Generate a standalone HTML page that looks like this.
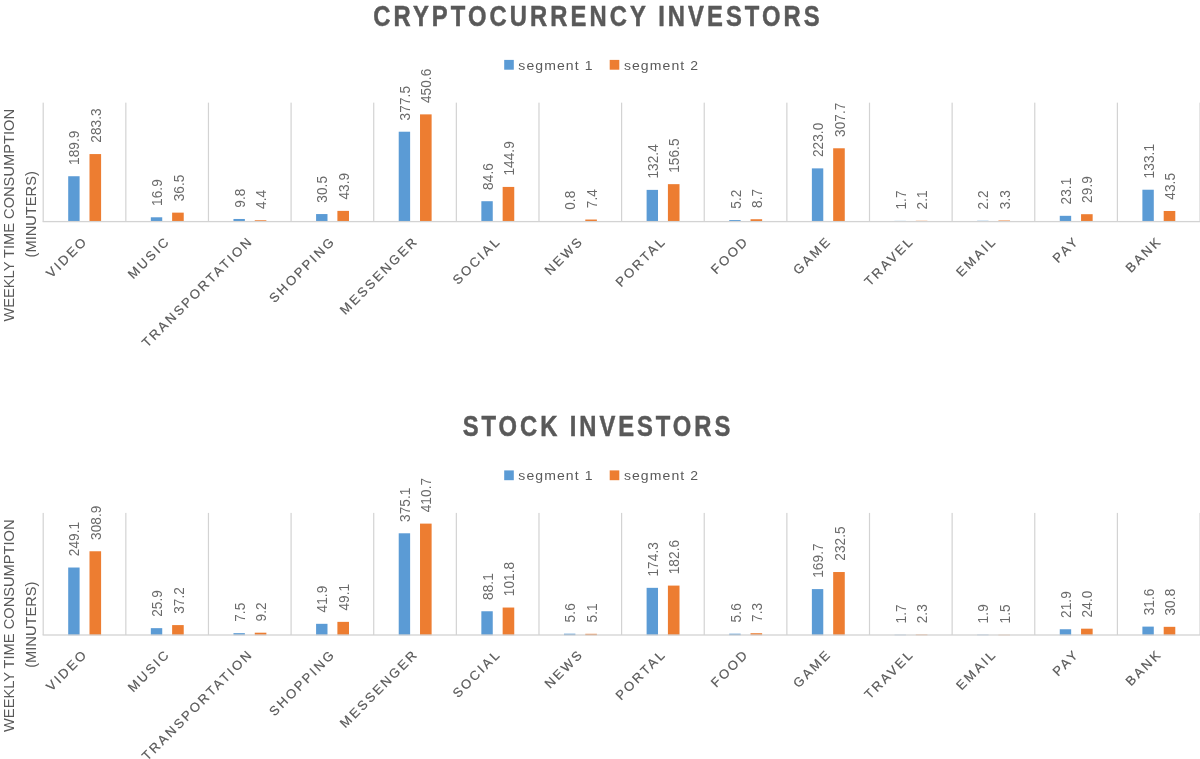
<!DOCTYPE html><html><head><meta charset="utf-8"><style>html,body{margin:0;padding:0;background:#fff;width:1200px;height:759px;overflow:hidden}svg{display:block;will-change:transform;filter:blur(0.35px)}text{font-family:"Liberation Sans",sans-serif}</style></head><body>
<svg width="1200" height="759" viewBox="0 0 1200 759">
<text transform="translate(598.05 26) scale(0.825 1)" text-anchor="middle" font-weight="bold" font-size="28.8" fill="#595959" stroke="#595959" stroke-width="0.5" letter-spacing="3.75">CRYPTOCURRENCY INVESTORS</text>
<rect x="504.2" y="59.9" width="9.6" height="9.8" fill="#5B9BD5"/>
<rect x="609.7" y="59.9" width="9.6" height="9.8" fill="#ED7D31"/>
<text transform="translate(518.3 69.5) scale(1.08 1)" font-size="13" fill="#595959" letter-spacing="1">segment 1</text>
<text transform="translate(623.9 69.5) scale(1.08 1)" font-size="13" fill="#595959" letter-spacing="1">segment 2</text>
<rect x="42.6" y="102.65" width="1.2" height="118.95" fill="#D3D3D3"/>
<rect x="125.23" y="102.65" width="1.2" height="118.95" fill="#D3D3D3"/>
<rect x="207.86" y="102.65" width="1.2" height="118.95" fill="#D3D3D3"/>
<rect x="290.49" y="102.65" width="1.2" height="118.95" fill="#D3D3D3"/>
<rect x="373.12" y="102.65" width="1.2" height="118.95" fill="#D3D3D3"/>
<rect x="455.75" y="102.65" width="1.2" height="118.95" fill="#D3D3D3"/>
<rect x="538.38" y="102.65" width="1.2" height="118.95" fill="#D3D3D3"/>
<rect x="621.01" y="102.65" width="1.2" height="118.95" fill="#D3D3D3"/>
<rect x="703.64" y="102.65" width="1.2" height="118.95" fill="#D3D3D3"/>
<rect x="786.27" y="102.65" width="1.2" height="118.95" fill="#D3D3D3"/>
<rect x="868.9" y="102.65" width="1.2" height="118.95" fill="#D3D3D3"/>
<rect x="951.53" y="102.65" width="1.2" height="118.95" fill="#D3D3D3"/>
<rect x="1034.16" y="102.65" width="1.2" height="118.95" fill="#D3D3D3"/>
<rect x="1116.79" y="102.65" width="1.2" height="118.95" fill="#D3D3D3"/>
<rect x="1199.42" y="102.65" width="1.2" height="118.95" fill="#D3D3D3"/>
<rect x="68.2" y="176.24" width="11.4" height="45.06" fill="#5B9BD5"/>
<text transform="translate(79.49 164.94) rotate(-90) scale(0.937 1)" font-size="14.5" fill="#6a6a6a" letter-spacing="0.1">189.9</text>
<rect x="89.5" y="154.07" width="11.6" height="67.23" fill="#ED7D31"/>
<text transform="translate(100.89 142.77) rotate(-90) scale(0.937 1)" font-size="14.5" fill="#6a6a6a" letter-spacing="0.1">283.3</text>
<text transform="translate(88.52 241.6) rotate(-45)" text-anchor="end" font-size="13" fill="#595959" stroke="#595959" stroke-width="0.2" letter-spacing="2.35">VIDEO</text>
<rect x="150.83" y="217.29" width="11.4" height="4.01" fill="#5B9BD5"/>
<text transform="translate(162.12 205.99) rotate(-90) scale(0.937 1)" font-size="14.5" fill="#6a6a6a" letter-spacing="0.1">16.9</text>
<rect x="172.13" y="212.64" width="11.6" height="8.66" fill="#ED7D31"/>
<text transform="translate(183.52 201.34) rotate(-90) scale(0.937 1)" font-size="14.5" fill="#6a6a6a" letter-spacing="0.1">36.5</text>
<text transform="translate(171.14 241.6) rotate(-45)" text-anchor="end" font-size="13" fill="#595959" stroke="#595959" stroke-width="0.2" letter-spacing="2.35">MUSIC</text>
<rect x="233.46" y="218.97" width="11.4" height="2.33" fill="#5B9BD5"/>
<text transform="translate(244.75 207.67) rotate(-90) scale(0.937 1)" font-size="14.5" fill="#6a6a6a" letter-spacing="0.1">9.8</text>
<rect x="254.76" y="220.26" width="11.6" height="1.04" fill="#ED7D31"/>
<text transform="translate(266.15 208.96) rotate(-90) scale(0.937 1)" font-size="14.5" fill="#6a6a6a" letter-spacing="0.1">4.4</text>
<text transform="translate(253.77 241.6) rotate(-45)" text-anchor="end" font-size="13" fill="#595959" stroke="#595959" stroke-width="0.2" letter-spacing="2.35">TRANSPORTATION</text>
<rect x="316.09" y="214.06" width="11.4" height="7.24" fill="#5B9BD5"/>
<text transform="translate(327.38 202.76) rotate(-90) scale(0.937 1)" font-size="14.5" fill="#6a6a6a" letter-spacing="0.1">30.5</text>
<rect x="337.39" y="210.88" width="11.6" height="10.42" fill="#ED7D31"/>
<text transform="translate(348.78 199.58) rotate(-90) scale(0.937 1)" font-size="14.5" fill="#6a6a6a" letter-spacing="0.1">43.9</text>
<text transform="translate(336.4 241.6) rotate(-45)" text-anchor="end" font-size="13" fill="#595959" stroke="#595959" stroke-width="0.2" letter-spacing="2.35">SHOPPING</text>
<rect x="398.72" y="131.72" width="11.4" height="89.58" fill="#5B9BD5"/>
<text transform="translate(410.01 120.42) rotate(-90) scale(0.937 1)" font-size="14.5" fill="#6a6a6a" letter-spacing="0.1">377.5</text>
<rect x="420.02" y="114.37" width="11.6" height="106.93" fill="#ED7D31"/>
<text transform="translate(431.41 103.07) rotate(-90) scale(0.937 1)" font-size="14.5" fill="#6a6a6a" letter-spacing="0.1">450.6</text>
<text transform="translate(419.03 241.6) rotate(-45)" text-anchor="end" font-size="13" fill="#595959" stroke="#595959" stroke-width="0.2" letter-spacing="2.35">MESSENGER</text>
<rect x="481.35" y="201.22" width="11.4" height="20.08" fill="#5B9BD5"/>
<text transform="translate(492.64 189.92) rotate(-90) scale(0.937 1)" font-size="14.5" fill="#6a6a6a" letter-spacing="0.1">84.6</text>
<rect x="502.65" y="186.92" width="11.6" height="34.38" fill="#ED7D31"/>
<text transform="translate(514.04 175.62) rotate(-90) scale(0.937 1)" font-size="14.5" fill="#6a6a6a" letter-spacing="0.1">144.9</text>
<text transform="translate(501.66 241.6) rotate(-45)" text-anchor="end" font-size="13" fill="#595959" stroke="#595959" stroke-width="0.2" letter-spacing="2.35">SOCIAL</text>
<rect x="563.98" y="221.11" width="11.4" height="0.19" fill="#5B9BD5"/>
<text transform="translate(575.27 209.81) rotate(-90) scale(0.937 1)" font-size="14.5" fill="#6a6a6a" letter-spacing="0.1">0.8</text>
<rect x="585.28" y="219.54" width="11.6" height="1.76" fill="#ED7D31"/>
<text transform="translate(596.67 208.24) rotate(-90) scale(0.937 1)" font-size="14.5" fill="#6a6a6a" letter-spacing="0.1">7.4</text>
<text transform="translate(584.3 241.6) rotate(-45)" text-anchor="end" font-size="13" fill="#595959" stroke="#595959" stroke-width="0.2" letter-spacing="2.35">NEWS</text>
<rect x="646.61" y="189.88" width="11.4" height="31.42" fill="#5B9BD5"/>
<text transform="translate(657.9 178.58) rotate(-90) scale(0.937 1)" font-size="14.5" fill="#6a6a6a" letter-spacing="0.1">132.4</text>
<rect x="667.91" y="184.16" width="11.6" height="37.14" fill="#ED7D31"/>
<text transform="translate(679.3 172.86) rotate(-90) scale(0.937 1)" font-size="14.5" fill="#6a6a6a" letter-spacing="0.1">156.5</text>
<text transform="translate(666.92 241.6) rotate(-45)" text-anchor="end" font-size="13" fill="#595959" stroke="#595959" stroke-width="0.2" letter-spacing="2.35">PORTAL</text>
<rect x="729.24" y="220.07" width="11.4" height="1.23" fill="#5B9BD5"/>
<text transform="translate(740.53 208.77) rotate(-90) scale(0.937 1)" font-size="14.5" fill="#6a6a6a" letter-spacing="0.1">5.2</text>
<rect x="750.54" y="219.24" width="11.6" height="2.06" fill="#ED7D31"/>
<text transform="translate(761.93 207.94) rotate(-90) scale(0.937 1)" font-size="14.5" fill="#6a6a6a" letter-spacing="0.1">8.7</text>
<text transform="translate(749.56 241.6) rotate(-45)" text-anchor="end" font-size="13" fill="#595959" stroke="#595959" stroke-width="0.2" letter-spacing="2.35">FOOD</text>
<rect x="811.87" y="168.38" width="11.4" height="52.92" fill="#5B9BD5"/>
<text transform="translate(823.16 157.08) rotate(-90) scale(0.937 1)" font-size="14.5" fill="#6a6a6a" letter-spacing="0.1">223.0</text>
<rect x="833.17" y="148.28" width="11.6" height="73.02" fill="#ED7D31"/>
<text transform="translate(844.56 136.98) rotate(-90) scale(0.937 1)" font-size="14.5" fill="#6a6a6a" letter-spacing="0.1">307.7</text>
<text transform="translate(832.18 241.6) rotate(-45)" text-anchor="end" font-size="13" fill="#595959" stroke="#595959" stroke-width="0.2" letter-spacing="2.35">GAME</text>
<rect x="894.5" y="220.9" width="11.4" height="0.4" fill="#5B9BD5"/>
<text transform="translate(905.79 209.6) rotate(-90) scale(0.937 1)" font-size="14.5" fill="#6a6a6a" letter-spacing="0.1">1.7</text>
<rect x="915.8" y="220.8" width="11.6" height="0.5" fill="#ED7D31"/>
<text transform="translate(927.19 209.5) rotate(-90) scale(0.937 1)" font-size="14.5" fill="#6a6a6a" letter-spacing="0.1">2.1</text>
<text transform="translate(914.82 241.6) rotate(-45)" text-anchor="end" font-size="13" fill="#595959" stroke="#595959" stroke-width="0.2" letter-spacing="2.35">TRAVEL</text>
<rect x="977.13" y="220.78" width="11.4" height="0.52" fill="#5B9BD5"/>
<text transform="translate(988.42 209.48) rotate(-90) scale(0.937 1)" font-size="14.5" fill="#6a6a6a" letter-spacing="0.1">2.2</text>
<rect x="998.43" y="220.52" width="11.6" height="0.78" fill="#ED7D31"/>
<text transform="translate(1009.82 209.22) rotate(-90) scale(0.937 1)" font-size="14.5" fill="#6a6a6a" letter-spacing="0.1">3.3</text>
<text transform="translate(997.44 241.6) rotate(-45)" text-anchor="end" font-size="13" fill="#595959" stroke="#595959" stroke-width="0.2" letter-spacing="2.35">EMAIL</text>
<rect x="1059.76" y="215.82" width="11.4" height="5.48" fill="#5B9BD5"/>
<text transform="translate(1071.05 204.52) rotate(-90) scale(0.937 1)" font-size="14.5" fill="#6a6a6a" letter-spacing="0.1">23.1</text>
<rect x="1081.06" y="214.2" width="11.6" height="7.1" fill="#ED7D31"/>
<text transform="translate(1092.45 202.9) rotate(-90) scale(0.937 1)" font-size="14.5" fill="#6a6a6a" letter-spacing="0.1">29.9</text>
<text transform="translate(1080.08 241.6) rotate(-45)" text-anchor="end" font-size="13" fill="#595959" stroke="#595959" stroke-width="0.2" letter-spacing="2.35">PAY</text>
<rect x="1142.39" y="189.72" width="11.4" height="31.58" fill="#5B9BD5"/>
<text transform="translate(1153.68 178.42) rotate(-90) scale(0.937 1)" font-size="14.5" fill="#6a6a6a" letter-spacing="0.1">133.1</text>
<rect x="1163.69" y="210.98" width="11.6" height="10.32" fill="#ED7D31"/>
<text transform="translate(1175.08 199.68) rotate(-90) scale(0.937 1)" font-size="14.5" fill="#6a6a6a" letter-spacing="0.1">43.5</text>
<text transform="translate(1162.71 241.6) rotate(-45)" text-anchor="end" font-size="13" fill="#595959" stroke="#595959" stroke-width="0.2" letter-spacing="2.35">BANK</text>
<rect x="42.6" y="220.95" width="1200" height="1.3" fill="#D3D3D3"/>
<text transform="translate(14.2 215.3) rotate(-90)" text-anchor="middle" font-size="14.67" fill="#595959" letter-spacing="0">WEEKLY TIME CONSUMPTION</text>
<text transform="translate(35.5 214.3) rotate(-90)" text-anchor="middle" font-size="14.67" fill="#595959" letter-spacing="0">(MINUTERS)</text>
<text transform="translate(597.98 436) scale(0.825 1)" text-anchor="middle" font-weight="bold" font-size="28.8" fill="#595959" stroke="#595959" stroke-width="0.5" letter-spacing="3.58">STOCK INVESTORS</text>
<rect x="504.2" y="470.4" width="9.6" height="9.8" fill="#5B9BD5"/>
<rect x="609.7" y="470.4" width="9.6" height="9.8" fill="#ED7D31"/>
<text transform="translate(518.3 480) scale(1.08 1)" font-size="13" fill="#595959" letter-spacing="1">segment 1</text>
<text transform="translate(623.9 480) scale(1.08 1)" font-size="13" fill="#595959" letter-spacing="1">segment 2</text>
<rect x="42.6" y="512.9" width="1.2" height="122.1" fill="#D3D3D3"/>
<rect x="125.23" y="512.9" width="1.2" height="122.1" fill="#D3D3D3"/>
<rect x="207.86" y="512.9" width="1.2" height="122.1" fill="#D3D3D3"/>
<rect x="290.49" y="512.9" width="1.2" height="122.1" fill="#D3D3D3"/>
<rect x="373.12" y="512.9" width="1.2" height="122.1" fill="#D3D3D3"/>
<rect x="455.75" y="512.9" width="1.2" height="122.1" fill="#D3D3D3"/>
<rect x="538.38" y="512.9" width="1.2" height="122.1" fill="#D3D3D3"/>
<rect x="621.01" y="512.9" width="1.2" height="122.1" fill="#D3D3D3"/>
<rect x="703.64" y="512.9" width="1.2" height="122.1" fill="#D3D3D3"/>
<rect x="786.27" y="512.9" width="1.2" height="122.1" fill="#D3D3D3"/>
<rect x="868.9" y="512.9" width="1.2" height="122.1" fill="#D3D3D3"/>
<rect x="951.53" y="512.9" width="1.2" height="122.1" fill="#D3D3D3"/>
<rect x="1034.16" y="512.9" width="1.2" height="122.1" fill="#D3D3D3"/>
<rect x="1116.79" y="512.9" width="1.2" height="122.1" fill="#D3D3D3"/>
<rect x="1199.42" y="512.9" width="1.2" height="122.1" fill="#D3D3D3"/>
<rect x="68.2" y="567.52" width="11.4" height="67.68" fill="#5B9BD5"/>
<text transform="translate(79.49 556.22) rotate(-90) scale(0.937 1)" font-size="14.5" fill="#6a6a6a" letter-spacing="0.1">249.1</text>
<rect x="89.5" y="551.27" width="11.6" height="83.93" fill="#ED7D31"/>
<text transform="translate(100.89 539.97) rotate(-90) scale(0.937 1)" font-size="14.5" fill="#6a6a6a" letter-spacing="0.1">308.9</text>
<text transform="translate(88.52 654.8) rotate(-45)" text-anchor="end" font-size="13" fill="#595959" stroke="#595959" stroke-width="0.2" letter-spacing="2.35">VIDEO</text>
<rect x="150.83" y="628.16" width="11.4" height="7.04" fill="#5B9BD5"/>
<text transform="translate(162.12 616.86) rotate(-90) scale(0.937 1)" font-size="14.5" fill="#6a6a6a" letter-spacing="0.1">25.9</text>
<rect x="172.13" y="625.09" width="11.6" height="10.11" fill="#ED7D31"/>
<text transform="translate(183.52 613.79) rotate(-90) scale(0.937 1)" font-size="14.5" fill="#6a6a6a" letter-spacing="0.1">37.2</text>
<text transform="translate(171.14 654.8) rotate(-45)" text-anchor="end" font-size="13" fill="#595959" stroke="#595959" stroke-width="0.2" letter-spacing="2.35">MUSIC</text>
<rect x="233.46" y="633.16" width="11.4" height="2.04" fill="#5B9BD5"/>
<text transform="translate(244.75 621.86) rotate(-90) scale(0.937 1)" font-size="14.5" fill="#6a6a6a" letter-spacing="0.1">7.5</text>
<rect x="254.76" y="632.7" width="11.6" height="2.5" fill="#ED7D31"/>
<text transform="translate(266.15 621.4) rotate(-90) scale(0.937 1)" font-size="14.5" fill="#6a6a6a" letter-spacing="0.1">9.2</text>
<text transform="translate(253.77 654.8) rotate(-45)" text-anchor="end" font-size="13" fill="#595959" stroke="#595959" stroke-width="0.2" letter-spacing="2.35">TRANSPORTATION</text>
<rect x="316.09" y="623.82" width="11.4" height="11.38" fill="#5B9BD5"/>
<text transform="translate(327.38 612.52) rotate(-90) scale(0.937 1)" font-size="14.5" fill="#6a6a6a" letter-spacing="0.1">41.9</text>
<rect x="337.39" y="621.86" width="11.6" height="13.34" fill="#ED7D31"/>
<text transform="translate(348.78 610.56) rotate(-90) scale(0.937 1)" font-size="14.5" fill="#6a6a6a" letter-spacing="0.1">49.1</text>
<text transform="translate(336.4 654.8) rotate(-45)" text-anchor="end" font-size="13" fill="#595959" stroke="#595959" stroke-width="0.2" letter-spacing="2.35">SHOPPING</text>
<rect x="398.72" y="533.29" width="11.4" height="101.91" fill="#5B9BD5"/>
<text transform="translate(410.01 521.99) rotate(-90) scale(0.937 1)" font-size="14.5" fill="#6a6a6a" letter-spacing="0.1">375.1</text>
<rect x="420.02" y="523.61" width="11.6" height="111.59" fill="#ED7D31"/>
<text transform="translate(431.41 512.31) rotate(-90) scale(0.937 1)" font-size="14.5" fill="#6a6a6a" letter-spacing="0.1">410.7</text>
<text transform="translate(419.03 654.8) rotate(-45)" text-anchor="end" font-size="13" fill="#595959" stroke="#595959" stroke-width="0.2" letter-spacing="2.35">MESSENGER</text>
<rect x="481.35" y="611.26" width="11.4" height="23.94" fill="#5B9BD5"/>
<text transform="translate(492.64 599.96) rotate(-90) scale(0.937 1)" font-size="14.5" fill="#6a6a6a" letter-spacing="0.1">88.1</text>
<rect x="502.65" y="607.54" width="11.6" height="27.66" fill="#ED7D31"/>
<text transform="translate(514.04 596.24) rotate(-90) scale(0.937 1)" font-size="14.5" fill="#6a6a6a" letter-spacing="0.1">101.8</text>
<text transform="translate(501.66 654.8) rotate(-45)" text-anchor="end" font-size="13" fill="#595959" stroke="#595959" stroke-width="0.2" letter-spacing="2.35">SOCIAL</text>
<rect x="563.98" y="633.68" width="11.4" height="1.52" fill="#5B9BD5"/>
<text transform="translate(575.27 622.38) rotate(-90) scale(0.937 1)" font-size="14.5" fill="#6a6a6a" letter-spacing="0.1">5.6</text>
<rect x="585.28" y="633.81" width="11.6" height="1.39" fill="#ED7D31"/>
<text transform="translate(596.67 622.51) rotate(-90) scale(0.937 1)" font-size="14.5" fill="#6a6a6a" letter-spacing="0.1">5.1</text>
<text transform="translate(584.3 654.8) rotate(-45)" text-anchor="end" font-size="13" fill="#595959" stroke="#595959" stroke-width="0.2" letter-spacing="2.35">NEWS</text>
<rect x="646.61" y="587.84" width="11.4" height="47.36" fill="#5B9BD5"/>
<text transform="translate(657.9 576.54) rotate(-90) scale(0.937 1)" font-size="14.5" fill="#6a6a6a" letter-spacing="0.1">174.3</text>
<rect x="667.91" y="585.59" width="11.6" height="49.61" fill="#ED7D31"/>
<text transform="translate(679.3 574.29) rotate(-90) scale(0.937 1)" font-size="14.5" fill="#6a6a6a" letter-spacing="0.1">182.6</text>
<text transform="translate(666.92 654.8) rotate(-45)" text-anchor="end" font-size="13" fill="#595959" stroke="#595959" stroke-width="0.2" letter-spacing="2.35">PORTAL</text>
<rect x="729.24" y="633.68" width="11.4" height="1.52" fill="#5B9BD5"/>
<text transform="translate(740.53 622.38) rotate(-90) scale(0.937 1)" font-size="14.5" fill="#6a6a6a" letter-spacing="0.1">5.6</text>
<rect x="750.54" y="633.22" width="11.6" height="1.98" fill="#ED7D31"/>
<text transform="translate(761.93 621.92) rotate(-90) scale(0.937 1)" font-size="14.5" fill="#6a6a6a" letter-spacing="0.1">7.3</text>
<text transform="translate(749.56 654.8) rotate(-45)" text-anchor="end" font-size="13" fill="#595959" stroke="#595959" stroke-width="0.2" letter-spacing="2.35">FOOD</text>
<rect x="811.87" y="589.09" width="11.4" height="46.11" fill="#5B9BD5"/>
<text transform="translate(823.16 577.79) rotate(-90) scale(0.937 1)" font-size="14.5" fill="#6a6a6a" letter-spacing="0.1">169.7</text>
<rect x="833.17" y="572.03" width="11.6" height="63.17" fill="#ED7D31"/>
<text transform="translate(844.56 560.73) rotate(-90) scale(0.937 1)" font-size="14.5" fill="#6a6a6a" letter-spacing="0.1">232.5</text>
<text transform="translate(832.18 654.8) rotate(-45)" text-anchor="end" font-size="13" fill="#595959" stroke="#595959" stroke-width="0.2" letter-spacing="2.35">GAME</text>
<rect x="894.5" y="634.74" width="11.4" height="0.46" fill="#5B9BD5"/>
<text transform="translate(905.79 623.44) rotate(-90) scale(0.937 1)" font-size="14.5" fill="#6a6a6a" letter-spacing="0.1">1.7</text>
<rect x="915.8" y="634.58" width="11.6" height="0.62" fill="#ED7D31"/>
<text transform="translate(927.19 623.28) rotate(-90) scale(0.937 1)" font-size="14.5" fill="#6a6a6a" letter-spacing="0.1">2.3</text>
<text transform="translate(914.82 654.8) rotate(-45)" text-anchor="end" font-size="13" fill="#595959" stroke="#595959" stroke-width="0.2" letter-spacing="2.35">TRAVEL</text>
<rect x="977.13" y="634.68" width="11.4" height="0.52" fill="#5B9BD5"/>
<text transform="translate(988.42 623.38) rotate(-90) scale(0.937 1)" font-size="14.5" fill="#6a6a6a" letter-spacing="0.1">1.9</text>
<rect x="998.43" y="634.79" width="11.6" height="0.41" fill="#ED7D31"/>
<text transform="translate(1009.82 623.49) rotate(-90) scale(0.937 1)" font-size="14.5" fill="#6a6a6a" letter-spacing="0.1">1.5</text>
<text transform="translate(997.44 654.8) rotate(-45)" text-anchor="end" font-size="13" fill="#595959" stroke="#595959" stroke-width="0.2" letter-spacing="2.35">EMAIL</text>
<rect x="1059.76" y="629.25" width="11.4" height="5.95" fill="#5B9BD5"/>
<text transform="translate(1071.05 617.95) rotate(-90) scale(0.937 1)" font-size="14.5" fill="#6a6a6a" letter-spacing="0.1">21.9</text>
<rect x="1081.06" y="628.68" width="11.6" height="6.52" fill="#ED7D31"/>
<text transform="translate(1092.45 617.38) rotate(-90) scale(0.937 1)" font-size="14.5" fill="#6a6a6a" letter-spacing="0.1">24.0</text>
<text transform="translate(1080.08 654.8) rotate(-45)" text-anchor="end" font-size="13" fill="#595959" stroke="#595959" stroke-width="0.2" letter-spacing="2.35">PAY</text>
<rect x="1142.39" y="626.61" width="11.4" height="8.59" fill="#5B9BD5"/>
<text transform="translate(1153.68 615.31) rotate(-90) scale(0.937 1)" font-size="14.5" fill="#6a6a6a" letter-spacing="0.1">31.6</text>
<rect x="1163.69" y="626.83" width="11.6" height="8.37" fill="#ED7D31"/>
<text transform="translate(1175.08 615.53) rotate(-90) scale(0.937 1)" font-size="14.5" fill="#6a6a6a" letter-spacing="0.1">30.8</text>
<text transform="translate(1162.71 654.8) rotate(-45)" text-anchor="end" font-size="13" fill="#595959" stroke="#595959" stroke-width="0.2" letter-spacing="2.35">BANK</text>
<rect x="42.6" y="634.35" width="1200" height="1.3" fill="#D3D3D3"/>
<text transform="translate(14.2 625.7) rotate(-90)" text-anchor="middle" font-size="14.67" fill="#595959" letter-spacing="0">WEEKLY TIME CONSUMPTION</text>
<text transform="translate(35.5 624.7) rotate(-90)" text-anchor="middle" font-size="14.67" fill="#595959" letter-spacing="0">(MINUTERS)</text>
</svg></body></html>
